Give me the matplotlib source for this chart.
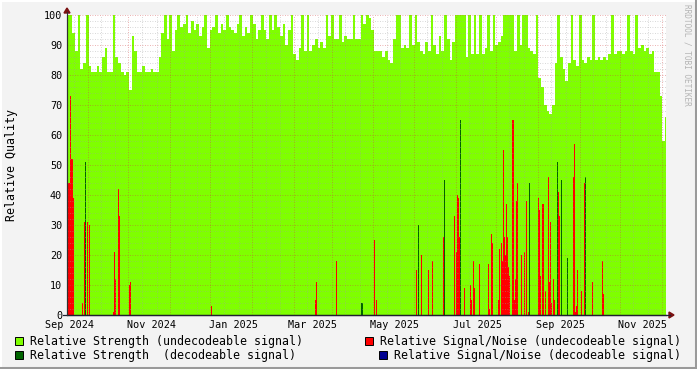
import datetime as dt
import matplotlib
matplotlib.use("Agg")
import matplotlib.pyplot as plt
from matplotlib.patches import Rectangle, Polygon
from matplotlib.lines import Line2D

# ---------------- data ----------------
START = dt.date(2024, 9, 1)          # day 0 of the x axis
BIN_START = -1.5                     # first 2-day bin of strength data
BIN_DAYS = 2

strength_undecodeable = [
    100, 100, 94, 88, 100, 82, 84, 100, 83, 81,
    81, 83, 81, 86, 89, 81, 81, 100, 86, 84,
    81, 80, 81, 75, 93, 88, 81, 81, 83, 81,
    81, 82, 81, 81, 86, 94, 100, 92, 100, 88,
    95, 100, 96, 97, 100, 94, 98, 95, 97, 93,
    96, 100, 89, 95, 96, 100, 94, 97, 95, 100,
    96, 95, 94, 97, 100, 93, 96, 94, 100, 97,
    92, 95, 100, 95, 92, 100, 95, 100, 96, 93,
    97, 90, 95, 100, 87, 85, 89, 100, 88, 100,
    88, 90, 92, 89, 91, 89, 100, 93, 100, 92,
    92, 100, 91, 93, 92, 92, 100, 92, 92, 100,
    97, 100, 99, 95, 88, 88, 88, 86, 88, 85,
    84, 92, 100, 100, 89, 90, 89, 100, 90, 100,
    91, 88, 87, 91, 88, 100, 90, 87, 93, 88,
    100, 92, 85, 91, 100, 100, 100, 100, 86, 100,
    87, 100, 87, 100, 87, 89, 100, 88, 100, 90,
    91, 93, 100, 100, 100, 100, 88, 100, 90, 100,
    100, 89, 88, 87, 100, 79, 76, 70, 68, 67,
    70, 84, 100, 86, 82, 78, 84, 100, 85, 83,
    100, 85, 84, 86, 85, 100, 85, 86, 85, 86,
    85, 87, 100, 87, 88, 88, 87, 88, 100, 88,
    87, 100, 89, 90, 88, 89, 87, 88, 81, 81,
    73, 58, 66,
]

strength_decodeable_days = [12.3, 217.5, 259.5, 279.0, 290.9, 342.0, 362.8, 365.8, 370.3, 383.6]
strength_decodeable_vals = [51, 4, 30, 45, 65, 44, 51, 45, 19, 46]

snr_undecodeable_days = [
    -0.9, -0.3, 0.2, 0.8, 1.5, 2.2, 3.0,
    9.7, 11.4, 13.9, 14.9,
    33.1, 33.7, 34.4, 36.8, 37.4,
    44.6, 45.4,
    106.1,
    182.9, 183.6,
    198.5,
    226.8, 228.3,
    258.3, 261.7, 267.1, 270.1, 278.3, 286.5, 288.0, 288.7, 289.4, 290.2, 293.7,
    298.2, 298.9, 300.4, 301.1, 304.8, 311.5, 312.3, 313.8, 314.5, 319.0, 319.7,
    321.2, 322.0, 322.7, 323.5, 324.2, 325.0, 325.7, 326.4, 327.1, 329.6, 330.9,
    331.6, 332.3, 333.1, 336.1, 338.3, 339.4, 341.3,
    348.7, 349.4, 350.2, 351.3, 352.0, 353.9, 356.1, 356.9, 357.6, 358.4, 359.9, 360.6,
    363.6, 364.3,
    374.7, 375.5, 376.2, 377.0, 377.7, 380.7, 382.9, 388.8, 396.3, 397.0,
]
snr_undecodeable_vals = [
    79, 44, 44, 73, 33, 52, 39,
    4, 31, 31, 30,
    1, 21, 12, 42, 33,
    10, 11,
    3,
    5, 11,
    18,
    25, 5,
    15, 20, 15, 18, 26, 33, 21, 40, 39, 26, 9,
    10, 5, 18, 9, 17, 17, 2, 27, 24, 5, 22,
    24, 18, 55, 26, 20, 37, 26, 16, 13, 65, 5,
    12, 38, 44, 20, 21, 38, 1,
    39, 35, 13, 37, 37, 8, 46, 11, 31, 4, 12, 5,
    41, 33,
    46, 57, 1, 3, 15, 8, 44, 11, 18, 7,
]

snr_decodeable_days = []
snr_decodeable_vals = []

tick_dates = [dt.date(2024, 9, 1), dt.date(2024, 11, 1), dt.date(2025, 1, 1), dt.date(2025, 3, 1),
              dt.date(2025, 5, 1), dt.date(2025, 7, 1), dt.date(2025, 9, 1), dt.date(2025, 11, 1)]
tick_labels = ["Sep 2024", "Nov 2024", "Jan 2025", "Mar 2025",
               "May 2025", "Jul 2025", "Sep 2025", "Nov 2025"]

legend_labels = ["Relative Strength (undecodeable signal)",
                 "Relative Signal/Noise (undecodeable signal)",
                 "Relative Strength  (decodeable signal)",
                 "Relative Signal/Noise (decodeable signal)"]

# ---------------- style ----------------
C_LGREEN = "#7fff00"
C_DGREEN = "#006400"
C_RED = "#ff0000"
C_BLUE = "#000090"
MONO = "DejaVu Sans Mono"
W, H = 697, 369

fig = plt.figure(figsize=(W / 100, H / 100), dpi=100, facecolor="#f3f3f3")

def fx(px):
    return px / W

def fy(py):
    return 1 - py / H

L, R, T, B = 67, 666, 15, 315
ax = fig.add_axes([fx(L), fy(B), (R - L) / W, (B - T) / H])
ax.set_facecolor("white")

X0, X1 = -1.5, 443.2
ax.set_xlim(X0, X1)
ax.set_ylim(0, 100)

# data
green_x = [BIN_START + BIN_DAYS * i for i in range(len(strength_undecodeable))]
ax.bar(green_x, strength_undecodeable, width=BIN_DAYS, align="edge",
       color=C_LGREEN, linewidth=0, zorder=1)
ax.bar(strength_decodeable_days, strength_decodeable_vals, width=0.8,
       color=C_DGREEN, linewidth=0, zorder=2)
ax.bar(snr_undecodeable_days, snr_undecodeable_vals, width=0.8,
       color=C_RED, linewidth=0, zorder=3)
if snr_decodeable_days:
    ax.bar(snr_decodeable_days, snr_decodeable_vals, width=0.8,
           color=C_BLUE, linewidth=0, zorder=3)

# grid (drawn over data like rrdtool)
minor_style = dict(color="#a0a0a0", alpha=0.55, lw=0.6, ls=(0, (1, 2)), zorder=5)
major_style = dict(color="#d04040", alpha=0.55, lw=0.6, ls=(0, (1, 2)), zorder=6)
for v in range(0, 101, 2):
    if v % 10:
        ax.axhline(v, **minor_style)
for v in range(10, 101, 10):
    ax.axhline(v, **major_style)

d = dt.date(2024, 8, 1)
while d < dt.date(2025, 12, 1):
    for dd in (5, 15, 25):
        day = (dt.date(d.year, d.month, dd) - START).days
        if X0 < day < X1:
            ax.axvline(day, **(major_style if dd == 15 else minor_style))
    d = dt.date(d.year + (d.month == 12), d.month % 12 + 1, 1)

# axes
for s in ("top", "right"):
    ax.spines[s].set_visible(False)
ax.spines["left"].set_color("#303030")
ax.spines["bottom"].set_color("#202030")
ax.spines["left"].set_linewidth(0.8)
ax.spines["bottom"].set_linewidth(0.9)
ax.spines["left"].set_zorder(7)
ax.spines["bottom"].set_zorder(7)

ax.set_yticks(range(0, 101, 10))
ax.set_yticklabels([str(v) for v in range(0, 101, 10)], fontfamily=MONO, fontsize=7.3)
ax.set_xticks([(t - START).days for t in tick_dates])
ax.set_xticklabels(tick_labels, fontfamily=MONO, fontsize=7.3)
ax.tick_params(axis="y", length=0, pad=3.5)
ax.tick_params(axis="x", length=0, pad=3.6)

# extend x axis and arrows
fig.add_artist(Line2D([fx(63), fx(670)], [fy(315), fy(315)], color="#202030", lw=0.9))
fig.add_artist(Line2D([fx(67), fx(67)], [fy(315), fy(12)], color="#303030", lw=0.8))
fig.add_artist(Polygon([[fx(64), fy(13)], [fx(70), fy(13)], [fx(67), fy(8)]],
                       closed=True, color="#7a1010", transform=fig.transFigure))
fig.add_artist(Polygon([[fx(669), fy(312)], [fx(669), fy(318)], [fx(674), fy(315)]],
                       closed=True, color="#7a1010", transform=fig.transFigure))

# y label
fig.text(fx(11.5), fy(165), "Relative Quality", rotation=90, ha="center", va="center",
         fontfamily=MONO, fontsize=8.4)

# watermark
fig.text(fx(687), fy(4), "RRDTOOL / TOBI OETIKER", rotation=270, ha="center", va="top",
         fontfamily=MONO, fontsize=5.6, color="#b4b4b4")

# legend
legend_items = [
    (15, 341, C_LGREEN, 30, legend_labels[0]),
    (365, 341, C_RED, 380, legend_labels[1]),
    (15, 355, C_DGREEN, 30, legend_labels[2]),
    (379, 355, C_BLUE, 394, legend_labels[3]),
]
for bx, cy, col, tx, lab in legend_items:
    fig.add_artist(Rectangle((fx(bx), fy(cy + 4)), 8 / W, 8 / H, facecolor=col,
                             edgecolor="black", lw=0.7, transform=fig.transFigure))
    fig.text(fx(tx), fy(cy), lab, ha="left", va="center", fontfamily=MONO, fontsize=8.42)

# 3D-ish frame
fig.add_artist(Line2D([0, 1], [fy(0.5), fy(0.5)], color="#ffffff", lw=1.5))
fig.add_artist(Line2D([fx(0.5), fx(0.5)], [0, 1], color="#ffffff", lw=1.5))
fig.add_artist(Line2D([0, 1], [fy(368), fy(368)], color="#9a9a9a", lw=2.2))
fig.add_artist(Line2D([fx(696), fx(696)], [0, 1], color="#9a9a9a", lw=2.2))

fig.savefig("out.png", dpi=100, facecolor=fig.get_facecolor())
